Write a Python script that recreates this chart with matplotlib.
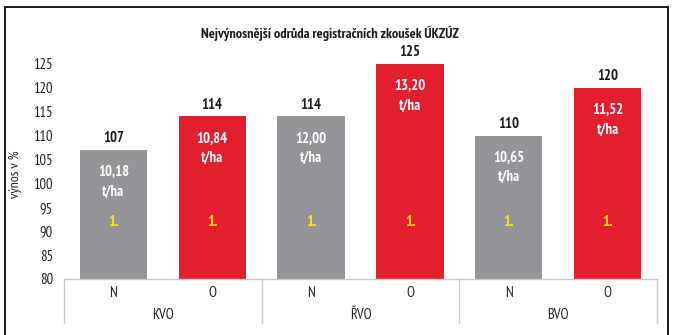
import matplotlib
matplotlib.use("Agg")
import matplotlib.pyplot as plt
from matplotlib.patches import Rectangle
import matplotlib.transforms as mtransforms

# Data
groups = ["KVO", "ŘVO", "BVO"]
variants = ["N", "O", "N", "O", "N", "O"]
relative_yield = [107, 114, 114, 125, 110, 120]
yield_tha = ["10,18", "10,84", "12,00", "13,20", "10,65", "11,52"]
rank_labels = ["1.", "1.", "1.", "1.", "1.", "1."]
rank_level = 92
yticks = [80, 85, 90, 95, 100, 105, 110, 115, 120, 125]

GRAY = "#939598"
RED = "#E31E2D"
YELLOW = "#FFEC00"
colors = [GRAY, RED] * 3

FONT = ["PT Sans Narrow", "Asap Condensed", "Barlow Semi Condensed", "DejaVu Sans"]
plt.rcParams["font.family"] = FONT

W, H = 677, 335
fig = plt.figure(figsize=(W / 100, H / 100), dpi=100)

# axes placed in pixel coordinates
x0, x1 = 64, 657
y_bottom, y_top = 279, 40
ax = fig.add_axes([x0 / W, 1 - y_bottom / H, (x1 - x0) / W, (y_bottom - y_top) / H])

xs = list(range(len(variants)))
ax.bar(xs, [v - 80 for v in relative_yield], bottom=80, width=0.68,
       color=colors, zorder=2)

ax.set_xlim(-0.5, len(variants) - 0.5)
ax.set_ylim(80, 130)
ax.set_yticks(yticks)
ax.set_yticklabels([str(t) for t in yticks], fontsize=10.5, color="#222222")
ax.tick_params(axis="y", length=0, pad=8)
ax.set_xticks([])

for s in ["left", "right", "top"]:
    ax.spines[s].set_visible(False)
ax.spines["bottom"].set_color("#C8C8C8")
ax.spines["bottom"].set_linewidth(1.0)

# value labels
for x, v, t, r in zip(xs, relative_yield, yield_tha, rank_labels):
    ax.annotate(str(v), (x, v), xytext=(0, 8.5), textcoords="offset points",
                ha="center", va="center", fontsize=10.5, fontweight="bold",
                color="#1a1a1a")
    ax.annotate(t, (x, v), xytext=(0, -16), textcoords="offset points",
                ha="center", va="center", fontsize=10.5, fontweight="bold",
                color="white")
    ax.annotate("t/ha", (x, v), xytext=(0, -30), textcoords="offset points",
                ha="center", va="center", fontsize=10.5, fontweight="bold",
                color="white")
    ax.text(x, rank_level, r, ha="center", va="center", fontsize=11,
            fontweight="heavy", color=YELLOW)

# category axis: variant labels, group labels and separators
trans = mtransforms.blended_transform_factory(ax.transData, ax.transAxes)
ax_h = y_bottom - y_top
for x, lab in zip(xs, variants):
    ax.text(x, -14 / ax_h, lab, transform=trans, ha="center", va="center",
            fontsize=10.5, color="#222222")
for i, g in enumerate(groups):
    ax.text(2 * i + 0.5, -36 / ax_h, g, transform=trans, ha="center",
            va="center", fontsize=10.5, color="#222222")
for sx in [-0.5, 1.5, 3.5, 5.5]:
    ax.plot([sx, sx], [0, -44 / ax_h], transform=trans, color="#C8C8C8",
            lw=1.0, clip_on=False)

ax.set_ylabel("výnos v %", fontsize=10, color="#222222")
ax.yaxis.set_label_coords(-(64 - 22) / (x1 - x0), (y_bottom - 174) / ax_h)

fig.text(330 / W, 1 - 33 / H, "Nejvýnosnější odrůda registračních zkoušek ÚKZÚZ",
         ha="center", va="center", fontsize=10.3, fontweight="bold", color="#1a1a1a")

# outer frame (open at the bottom edge)
fig.add_artist(Rectangle((5 / W, -0.05), (668 - 5) / W, 1.05 - 7 / H,
                         transform=fig.transFigure, fill=False,
                         edgecolor="#1a1a1a", lw=1.4))

fig.savefig("out.png", dpi=100)
